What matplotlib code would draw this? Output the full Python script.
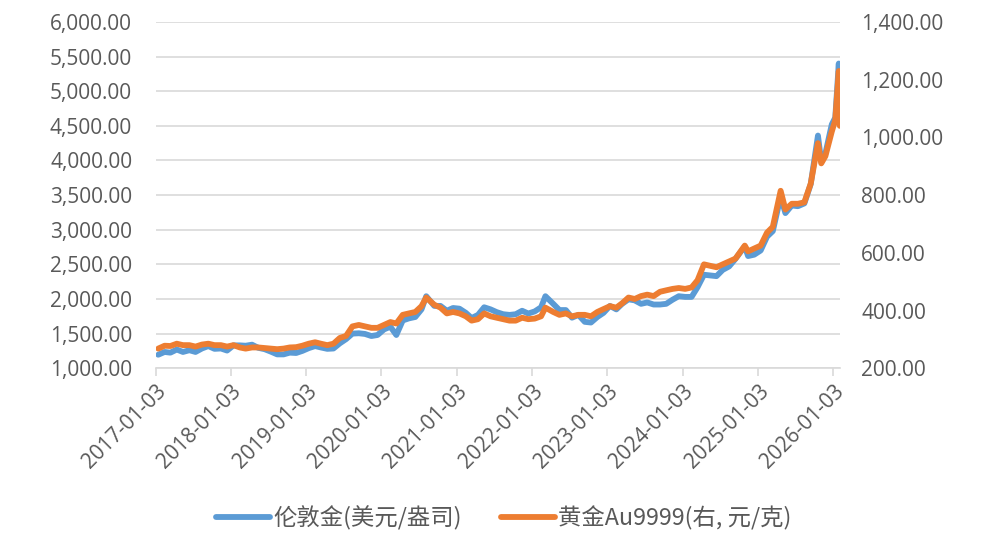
import matplotlib
matplotlib.use("Agg")
import matplotlib.pyplot as plt
from matplotlib.ticker import FuncFormatter
import pandas as pd

plt.rcParams['font.family'] = ['Open Sans', 'Noto Sans CJK SC', 'DejaVu Sans']

# ---- data ----
dates = [
    "2017-01-15","2017-02-15","2017-03-15","2017-04-15","2017-05-15","2017-06-15","2017-07-15","2017-08-15","2017-09-15","2017-10-15","2017-11-15","2017-12-15",
    "2018-01-15","2018-02-15","2018-03-15","2018-04-15","2018-05-15","2018-06-15","2018-07-15","2018-08-15","2018-09-15","2018-10-15","2018-11-15","2018-12-15",
    "2019-01-15","2019-02-15","2019-03-15","2019-04-15","2019-05-15","2019-06-15","2019-07-15","2019-08-15","2019-09-15","2019-10-15","2019-11-15","2019-12-15",
    "2020-01-15","2020-02-15","2020-03-15","2020-04-15","2020-05-15","2020-06-15","2020-07-15","2020-08-07","2020-09-15","2020-10-15","2020-11-15","2020-12-15",
    "2021-01-15","2021-02-15","2021-03-15","2021-04-15","2021-05-15","2021-06-15","2021-07-15","2021-08-15","2021-09-15","2021-10-15","2021-11-15","2021-12-15",
    "2022-01-15","2022-02-15","2022-03-08","2022-04-15","2022-05-15","2022-06-15","2022-07-15","2022-08-15","2022-09-15","2022-10-15","2022-11-15","2022-12-15",
    "2023-01-15","2023-02-15","2023-03-15","2023-04-15","2023-05-15","2023-06-15","2023-07-15","2023-08-15","2023-09-15","2023-10-15","2023-11-15","2023-12-15",
    "2024-01-15","2024-02-15","2024-03-15","2024-04-15","2024-05-15","2024-06-15","2024-07-15","2024-08-15","2024-09-15","2024-10-30","2024-11-15","2024-12-15",
    "2025-01-15","2025-02-15","2025-03-15","2025-04-22","2025-05-15","2025-06-15","2025-07-15","2025-08-15","2025-09-15","2025-10-20","2025-11-05","2025-11-25","2025-12-26",
    "2026-01-12","2026-01-29","2026-02-03",
]
london_gold_usd = [
    1195, 1235, 1225, 1270, 1235, 1260, 1235, 1285, 1320, 1280, 1285, 1255,
    1330, 1330, 1325, 1340, 1295, 1275, 1240, 1200, 1200, 1225, 1220, 1250,
    1290, 1320, 1300, 1280, 1285, 1360, 1420, 1500, 1505, 1495, 1465, 1480,
    1560, 1600, 1480, 1690, 1720, 1740, 1850, 2040, 1900, 1900, 1830, 1870,
    1860, 1800, 1725, 1770, 1880, 1850, 1810, 1780, 1770, 1780, 1830, 1790,
    1820, 1880, 2040, 1930, 1840, 1840, 1730, 1770, 1670, 1660, 1740, 1800,
    1900, 1850, 1930, 1995, 1980, 1930, 1950, 1920, 1920, 1930, 1990, 2040,
    2030, 2030, 2170, 2350, 2340, 2330, 2420, 2470, 2580, 2760, 2620, 2640,
    2700, 2900, 2980, 3480, 3240, 3350, 3340, 3380, 3660, 4360, 3980, 4100, 4520,
    4620, 5400, 4750,
]
au9999_cny = [
    268, 278, 277, 285, 280, 280, 275, 282, 285, 280, 280, 275,
    280, 272, 268, 272, 272, 270, 268, 266, 268, 272, 273, 278,
    285, 290, 285, 280, 285, 305, 312, 345, 350, 345, 340, 340,
    350, 360, 355, 385, 390, 395, 415, 445, 420, 410, 390, 395,
    390, 380, 365, 370, 390, 380, 375, 370, 365, 365, 375, 370,
    372, 380, 410, 395, 385, 390, 380, 385, 385, 380, 395, 405,
    415, 410, 425, 445, 440, 450, 455, 450, 465, 470, 475, 478,
    475, 480, 505, 560, 555, 550, 560, 570, 580, 625, 605, 615,
    625, 670, 690, 815, 750, 770, 770, 775, 840, 980, 910, 935, 1020,
    1060, 1230, 1040,
]
left_ticks = [1000, 1500, 2000, 2500, 3000, 3500, 4000, 4500, 5000, 5500, 6000]
right_ticks = [200, 400, 600, 800, 1000, 1200, 1400]
x_tick_labels = ["2017-01-03","2018-01-03","2019-01-03","2020-01-03","2021-01-03",
                 "2022-01-03","2023-01-03","2024-01-03","2025-01-03","2026-01-03"]
series_names = ["伦敦金(美元/盎司)", "黄金Au9999(右, 元/克)"]

# ---- plot ----
x = pd.to_datetime(dates)
xt = pd.to_datetime(x_tick_labels)

fig = plt.figure(figsize=(9.92, 5.36), dpi=100)
ax = fig.add_axes([0.157, 0.313, 0.690, 0.646])
ax2 = ax.twinx()

blue = "#5B9BD5"
orange = "#ED7D31"
grey_txt = "#595959"
grid_c = "#D9D9D9"

l1, = ax.plot(x, london_gold_usd, color=blue, lw=4.2, solid_joinstyle="round", solid_capstyle="round")
l2, = ax2.plot(x, au9999_cny, color=orange, lw=4.2, solid_joinstyle="round", solid_capstyle="round")

ax.set_ylim(left_ticks[0], left_ticks[-1])
ax.set_yticks(left_ticks)
ax2.set_ylim(right_ticks[0], right_ticks[-1])
ax2.set_yticks(right_ticks)
fmt = FuncFormatter(lambda v, p: f"{v:,.2f}")
ax.yaxis.set_major_formatter(fmt)
ax2.yaxis.set_major_formatter(fmt)

ax.set_xlim(pd.Timestamp("2017-01-03"), pd.Timestamp("2026-02-05"))
ax.set_xticks(xt)
ax.set_xticklabels(x_tick_labels, rotation=45, ha="right", rotation_mode="anchor")

ax.grid(axis="y", color=grid_c, lw=1.2)
ax.set_axisbelow(True)
for a in (ax, ax2):
    for s in ("top", "left", "right", "bottom"):
        a.spines[s].set_visible(False)
ax.spines["bottom"].set_visible(True)
ax.spines["bottom"].set_color(grid_c)
ax.spines["bottom"].set_linewidth(1.2)

ax.tick_params(axis="y", length=0, pad=17, labelsize=15, labelcolor=grey_txt)
ax2.tick_params(axis="y", length=0, pad=15, labelsize=15, labelcolor=grey_txt)
ax.tick_params(axis="x", length=6, width=1.2, color=grid_c, pad=3, labelsize=15, labelcolor=grey_txt)

fig.legend([l1, l2], series_names, loc="center", bbox_to_anchor=(0.508, 0.034), ncol=2,
           frameon=False, labelcolor=grey_txt, handlelength=2.3,
           columnspacing=1.7, handletextpad=0.15,
           prop={'family': ['Noto Sans CJK SC', 'DejaVu Sans'], 'size': 16.8})

fig.savefig("out.png", dpi=100)
